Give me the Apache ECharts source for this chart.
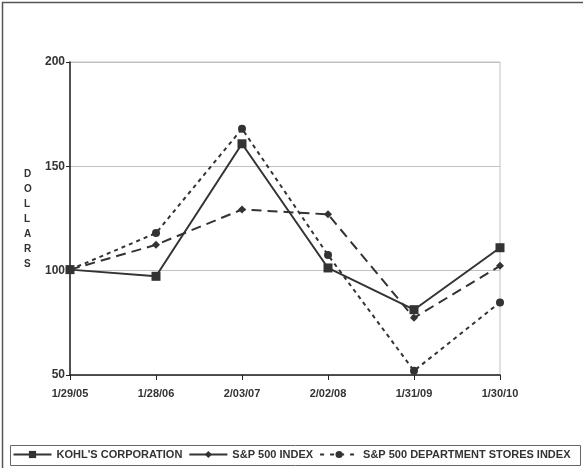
<!DOCTYPE html>
<html>
<head>
<meta charset="utf-8">
<script src="https://cdn.jsdelivr.net/npm/echarts@6/dist/echarts.min.js"></script>
<style>
    html, body { margin: 0; padding: 0; background: #fff; }
    #chart { width: 583px; height: 468px; }
</style>
</head>
<body>
<div id="chart"></div>
<script>
    // 数据
    var dates = ['1/29/05', '1/28/06', '2/03/07', '2/02/08', '1/31/09', '1/30/10'];
    var kohls = [100.5, 97.3, 160.8, 101.3, 81.3, 111.0];
    var sp500 = [100.5, 112.4, 129.3, 127.0, 77.4, 102.3];
    var deptStores = [100.5, 118.0, 168.0, 107.5, 52.0, 84.8];
    var yTicks = [50, 100, 150, 200];

    var font = '"Liberation Sans", Arial, sans-serif';
    var ink = '#333';

    var myChart = echarts.init(document.getElementById('chart'));
    myChart.setOption({
        animation: false,
        textStyle: { fontFamily: font },
        grid: {
            left: 70, right: 83, top: 62, bottom: 93,
            show: true,
            borderColor: '#c0c0c0',
            borderWidth: 1
        },
        xAxis: {
            type: 'category',
            data: dates,
            boundaryGap: false,
            axisLine: { lineStyle: { color: '#222', width: 1.5 } },
            axisTick: { show: true, length: 5, alignWithLabel: true, lineStyle: { color: '#222' } },
            axisLabel: { color: ink, fontSize: 11, fontWeight: 'bold', margin: 13, fontFamily: font },
            splitLine: { show: false }
        },
        yAxis: {
            type: 'value',
            min: yTicks[0],
            max: yTicks[yTicks.length - 1],
            interval: 50,
            axisLine: { show: true, lineStyle: { color: '#222', width: 1.5 } },
            axisTick: { show: true, length: 4, lineStyle: { color: '#222' } },
            axisLabel: { color: ink, fontSize: 12, fontWeight: 'bold', margin: 5, fontFamily: font },
            splitLine: { lineStyle: { color: '#c0c0c0', width: 1 } }
        },
        //图例
        legend: {
            top: 444,
            left: 'center',
            itemWidth: 38,
            itemHeight: 9,
            itemGap: 6,
            textStyle: { color: ink, fontSize: 11, fontWeight: 'bold', fontFamily: font },
            data: [
                { name: "KOHL'S CORPORATION", lineStyle: { type: 'solid' } },
                { name: 'S&P 500 INDEX', lineStyle: { type: 'solid' } },
                { name: 'S&P 500 DEPARTMENT STORES INDEX', lineStyle: { type: [4, 6] } }
            ]
        },
        graphic: [
            // 外框
            { type: 'rect', left: 0, top: 0, shape: { width: 582, height: 467 },
              style: { fill: 'none', stroke: '#555', lineWidth: 1.5 }, silent: true },
            // 图例框
            { type: 'rect', left: 8, top: 443, shape: { width: 570, height: 20 },
              style: { fill: 'none', stroke: '#666', lineWidth: 1 }, silent: true },
            // y轴标题
            { type: 'text', left: 24, top: 167,
              style: { text: 'D\nO\nL\nL\nA\nR\nS', fill: ink, font: 'bold 10px "Liberation Sans", Arial, sans-serif',
                       lineHeight: 15, align: 'center' } }
        ],
        series: [
            {
                name: "KOHL'S CORPORATION",
                type: 'line',
                data: kohls,
                symbol: 'rect',
                symbolSize: 9,
                lineStyle: { color: ink, width: 2, type: 'solid' },
                itemStyle: { color: ink },
                z: 4
            },
            {
                name: 'S&P 500 INDEX',
                type: 'line',
                data: sp500,
                symbol: 'diamond',
                symbolSize: 8,
                lineStyle: { color: ink, width: 2, type: [10, 6] },
                itemStyle: { color: ink },
                z: 3
            },
            {
                name: 'S&P 500 DEPARTMENT STORES INDEX',
                type: 'line',
                data: deptStores,
                symbol: 'circle',
                symbolSize: 8,
                lineStyle: { color: ink, width: 2, type: [4, 4] },
                itemStyle: { color: ink },
                z: 2
            }
        ]
    });
</script>
</body>
</html>
